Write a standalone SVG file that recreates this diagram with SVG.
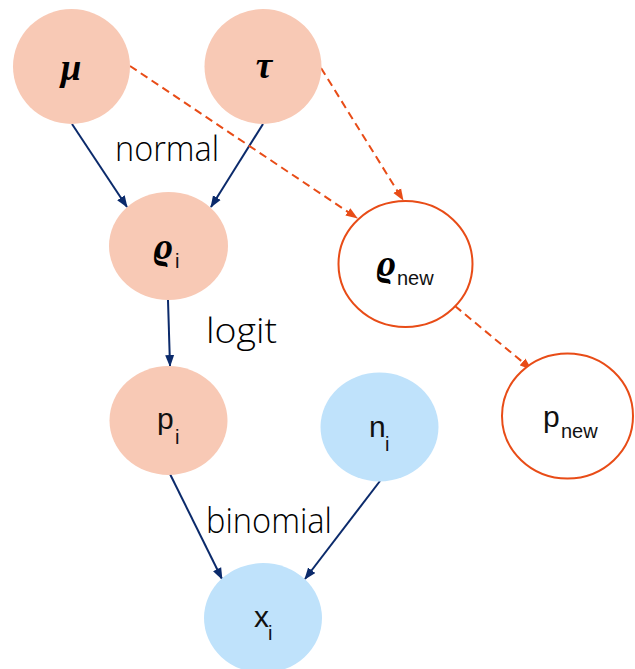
<svg xmlns="http://www.w3.org/2000/svg" width="635" height="669" viewBox="0 0 635 669">
<style>
.salmon{fill:#f8c9b5;stroke:none}
.blue{fill:#bfe2fb;stroke:none}
.open{fill:#ffffff;stroke:#e84c17;stroke-width:2}
.solid{stroke:#0b2a6b;stroke-width:2;fill:none;marker-end:url(#ah)}
.dash{stroke:#e84c17;stroke-width:2;fill:none;stroke-dasharray:8 5;marker-end:url(#aho)}
.greek{font-family:"Liberation Serif","DejaVu Serif",serif;font-style:italic;font-weight:bold;font-size:37px;fill:#000}
.lab{font-family:"Liberation Sans",Arial,sans-serif;fill:#111}
.big{font-size:30px}
.sub{font-size:20px}
.edge{font-family:"Open Sans","DejaVu Sans",sans-serif;font-weight:300;font-size:35px;fill:#000}
</style>
<defs>
<marker id="ah" markerUnits="userSpaceOnUse" markerWidth="12" markerHeight="10" refX="11" refY="4.5" orient="auto" viewBox="0 0 12 9">
<path d="M0,0 L12,4.5 L0,9 z" fill="#0b2a6b"/>
</marker>
<marker id="aho" markerUnits="userSpaceOnUse" markerWidth="12" markerHeight="10" refX="11" refY="4.5" orient="auto" viewBox="0 0 12 9">
<path d="M0,0 L12,4.5 L0,9 z" fill="#e84c17"/>
</marker>
</defs>
<g id="connectors">
<line class="solid" x1="72" y1="124" x2="127" y2="207"/>
<line class="solid" x1="263" y1="124" x2="211" y2="207"/>
<line class="solid" x1="168" y1="300" x2="170" y2="366"/>
<line class="solid" x1="170" y1="474" x2="222" y2="579"/>
<line class="solid" x1="380" y1="481" x2="305" y2="579"/>
<line class="dash" x1="130" y1="66" x2="357" y2="218"/>
<line class="dash" x1="321" y1="68" x2="403" y2="200"/>
<line class="dash" x1="455" y1="306" x2="531" y2="369"/>
</g>
<g id="edge-labels">
<text class="edge" x="115" y="161" textLength="104" lengthAdjust="spacingAndGlyphs">normal</text>
<text class="edge" x="206" y="343" textLength="71" lengthAdjust="spacingAndGlyphs">logit</text>
<text class="edge" x="206" y="533" textLength="126" lengthAdjust="spacingAndGlyphs">binomial</text>
</g>
<g id="node-mu">
<ellipse class="salmon" cx="71.5" cy="66.5" rx="58.5" ry="57.5"/>
<text class="greek" x="71" y="80" text-anchor="middle">μ</text>
</g>
<g id="node-tau">
<ellipse class="salmon" cx="263" cy="66.5" rx="58.5" ry="57.5"/>
<text class="greek" x="264" y="78" text-anchor="middle">τ</text>
</g>
<g id="node-rho-i">
<ellipse class="salmon" cx="168.5" cy="246" rx="59.5" ry="54"/>
<text class="greek" x="153" y="259">ϱ</text>
<text class="lab sub" x="175" y="268">i</text>
</g>
<g id="node-rho-new">
<ellipse class="open" cx="405.5" cy="264" rx="67" ry="63"/>
<text class="greek" x="376" y="276">ϱ</text>
<text class="lab sub" x="397" y="285">new</text>
</g>
<g id="node-p-i">
<ellipse class="salmon" cx="168.5" cy="420.5" rx="59" ry="54.5"/>
<text class="lab big" x="157" y="429">p</text>
<text class="lab sub" x="175" y="444">i</text>
</g>
<g id="node-n-i">
<ellipse class="blue" cx="379.5" cy="427" rx="59" ry="54.5"/>
<text class="lab big" x="369" y="437">n</text>
<text class="lab sub" x="385" y="451">i</text>
</g>
<g id="node-p-new">
<ellipse class="open" cx="567.5" cy="416" rx="65.5" ry="62.5"/>
<text class="lab big" x="543" y="427">p</text>
<text class="lab sub" x="561" y="438">new</text>
</g>
<g id="node-x-i">
<ellipse class="blue" cx="263" cy="618" rx="59" ry="55"/>
<text class="lab big" x="254" y="627">x</text>
<text class="lab sub" x="268" y="640">i</text>
</g>
</svg>
